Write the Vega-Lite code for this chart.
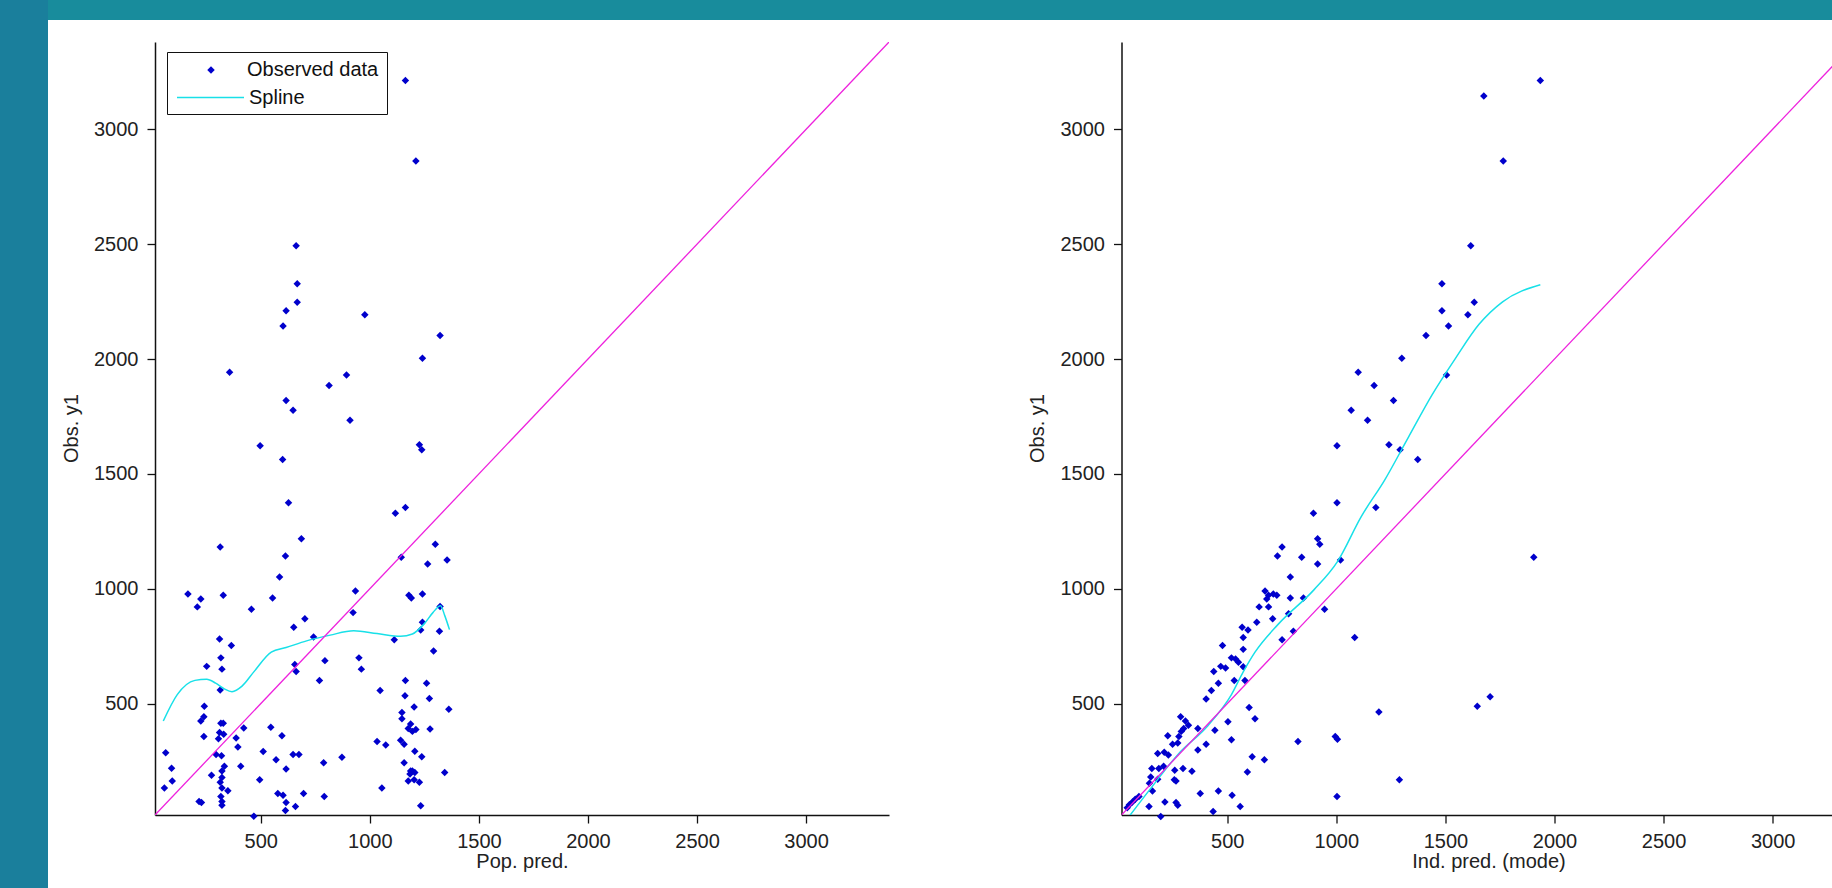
{
  "$schema": "https://vega.github.io/schema/vega-lite/v6.json",
  "padding": 0,
  "background": "white",
  "config": {
    "view": {"stroke": null},
    "font": "Liberation Sans",
    "axis": {
      "grid": false,
      "domainColor": "#111",
      "domainWidth": 1.5,
      "tickColor": "#111",
      "tickSize": 8,
      "tickWidth": 1.3,
      "labelFont": "Liberation Sans",
      "labelFontSize": 20,
      "labelColor": "#222",
      "labelPadding": 8,
      "titleFont": "Liberation Sans",
      "titleFontSize": 20,
      "titleFontWeight": "normal",
      "titleColor": "#222"
    }
  },
  "datasets": {
    "popPts": [
      {"pred":1163,"obs":3212},{"pred":1211,"obs":2862},{"pred":662,"obs":2493},{"pred":667,"obs":2328},{"pred":667,"obs":2247},{"pred":616,"obs":2210},{"pred":602,"obs":2144},{"pred":977,"obs":2193},{"pred":1322,"obs":2102},{"pred":1241,"obs":2003},
      {"pred":357,"obs":1942},{"pred":893,"obs":1930},{"pred":813,"obs":1885},{"pred":616,"obs":1819},{"pred":648,"obs":1777},{"pred":909,"obs":1733},{"pred":497,"obs":1622},{"pred":1227,"obs":1627},{"pred":1238,"obs":1605},{"pred":600,"obs":1563},
      {"pred":627,"obs":1374},{"pred":1117,"obs":1329},{"pred":1163,"obs":1354},{"pred":686,"obs":1218},{"pred":314,"obs":1182},{"pred":1300,"obs":1194},{"pred":613,"obs":1142},{"pred":1144,"obs":1137},{"pred":1354,"obs":1125},{"pred":1265,"obs":1108},
      {"pred":586,"obs":1051},{"pred":166,"obs":977},{"pred":328,"obs":972},{"pred":225,"obs":955},{"pred":209,"obs":921},{"pred":554,"obs":960},{"pred":934,"obs":990},{"pred":1179,"obs":972},{"pred":1190,"obs":960},{"pred":1241,"obs":977},
      {"pred":457,"obs":911},{"pred":923,"obs":896},{"pred":1322,"obs":923},{"pred":702,"obs":869},{"pred":651,"obs":832},{"pred":311,"obs":781},{"pred":365,"obs":753},{"pred":1241,"obs":854},{"pred":1233,"obs":820},{"pred":1319,"obs":815},
      {"pred":1112,"obs":778},{"pred":742,"obs":790},{"pred":317,"obs":699},{"pred":950,"obs":699},{"pred":794,"obs":687},{"pred":656,"obs":670},{"pred":252,"obs":662},{"pred":322,"obs":650},{"pred":662,"obs":640},{"pred":961,"obs":650},
      {"pred":1292,"obs":729},{"pred":769,"obs":601},{"pred":314,"obs":559},{"pred":1047,"obs":557},{"pred":1163,"obs":601},{"pred":1260,"obs":589},{"pred":1161,"obs":534},{"pred":1273,"obs":522},{"pred":241,"obs":488},{"pred":1203,"obs":485},
      {"pred":1362,"obs":475},{"pred":239,"obs":443},{"pred":1147,"obs":461},{"pred":225,"obs":424},{"pred":1147,"obs":434},{"pred":317,"obs":414},{"pred":328,"obs":414},{"pred":1187,"obs":411},{"pred":1195,"obs":379},{"pred":1176,"obs":392},
      {"pred":1211,"obs":387},{"pred":1276,"obs":389},{"pred":546,"obs":397},{"pred":422,"obs":394},{"pred":239,"obs":357},{"pred":311,"obs":374},{"pred":330,"obs":367},{"pred":387,"obs":350},{"pred":306,"obs":347},{"pred":597,"obs":360},
      {"pred":1033,"obs":335},{"pred":1073,"obs":320},{"pred":1141,"obs":340},{"pred":1157,"obs":323},{"pred":64,"obs":286},{"pred":295,"obs":278},{"pred":395,"obs":311},{"pred":320,"obs":273},{"pred":511,"obs":291},{"pred":648,"obs":278},
      {"pred":675,"obs":278},{"pred":872,"obs":266},{"pred":1206,"obs":293},{"pred":1238,"obs":269},{"pred":570,"obs":256},{"pred":788,"obs":242},{"pred":91,"obs":219},{"pred":333,"obs":227},{"pred":408,"obs":227},{"pred":322,"obs":207},
      {"pred":616,"obs":215},{"pred":1157,"obs":242},{"pred":1187,"obs":207},{"pred":1195,"obs":207},{"pred":1206,"obs":200},{"pred":1343,"obs":200},{"pred":274,"obs":188},{"pred":322,"obs":178},{"pred":94,"obs":163},{"pred":495,"obs":168},
      {"pred":1184,"obs":193},{"pred":1203,"obs":168},{"pred":1176,"obs":163},{"pred":1227,"obs":158},{"pred":58,"obs":133},{"pred":349,"obs":121},{"pred":1055,"obs":133},{"pred":578,"obs":109},{"pred":602,"obs":101},{"pred":696,"obs":109},
      {"pred":791,"obs":96},{"pred":317,"obs":96},{"pred":322,"obs":74},{"pred":217,"obs":74},{"pred":228,"obs":69},{"pred":616,"obs":69},{"pred":659,"obs":52},{"pred":322,"obs":57},{"pred":613,"obs":35},{"pred":468,"obs":10},
      {"pred":1233,"obs":55},{"pred":314,"obs":158},{"pred":322,"obs":133}
    ],
    "indPts": [
      {"pred":1935,"obs":3212},{"pred":1676,"obs":3145},{"pred":1765,"obs":2862},{"pred":1616,"obs":2493},{"pred":1484,"obs":2328},{"pred":1632,"obs":2247},{"pred":1484,"obs":2210},{"pred":1603,"obs":2193},{"pred":1514,"obs":2144},{"pred":1411,"obs":2102},
      {"pred":1300,"obs":2003},{"pred":1505,"obs":1930},{"pred":1100,"obs":1942},{"pred":1173,"obs":1885},{"pred":1068,"obs":1777},{"pred":1262,"obs":1819},{"pred":1143,"obs":1733},{"pred":1003,"obs":1622},{"pred":1241,"obs":1627},{"pred":1292,"obs":1605},
      {"pred":1373,"obs":1563},{"pred":1003,"obs":1374},{"pred":1181,"obs":1354},{"pred":895,"obs":1329},{"pred":914,"obs":1218},{"pred":924,"obs":1194},{"pred":751,"obs":1182},{"pred":730,"obs":1142},{"pred":841,"obs":1137},{"pred":1019,"obs":1125},
      {"pred":914,"obs":1108},{"pred":1905,"obs":1137},{"pred":789,"obs":1051},{"pred":673,"obs":990},{"pred":689,"obs":972},{"pred":711,"obs":977},{"pred":727,"obs":972},{"pred":681,"obs":955},{"pred":789,"obs":960},{"pred":849,"obs":960},
      {"pred":646,"obs":921},{"pred":689,"obs":921},{"pred":946,"obs":911},{"pred":708,"obs":869},{"pred":781,"obs":891},{"pred":635,"obs":854},{"pred":568,"obs":832},{"pred":595,"obs":820},{"pred":803,"obs":815},{"pred":1084,"obs":788},
      {"pred":751,"obs":778},{"pred":573,"obs":788},{"pred":478,"obs":753},{"pred":573,"obs":736},{"pred":519,"obs":699},{"pred":538,"obs":694},{"pred":551,"obs":680},{"pred":470,"obs":662},{"pred":492,"obs":655},{"pred":438,"obs":640},
      {"pred":573,"obs":660},{"pred":532,"obs":601},{"pred":581,"obs":601},{"pred":459,"obs":589},{"pred":427,"obs":557},{"pred":403,"obs":520},{"pred":600,"obs":483},{"pred":1195,"obs":463},{"pred":627,"obs":434},{"pred":286,"obs":443},
      {"pred":503,"obs":421},{"pred":308,"obs":424},{"pred":322,"obs":406},{"pred":300,"obs":392},{"pred":289,"obs":379},{"pred":443,"obs":384},{"pred":365,"obs":392},{"pred":278,"obs":357},{"pred":227,"obs":360},{"pred":519,"obs":343},
      {"pred":824,"obs":335},{"pred":995,"obs":357},{"pred":1005,"obs":345},{"pred":273,"obs":328},{"pred":249,"obs":323},{"pred":403,"obs":323},{"pred":181,"obs":283},{"pred":211,"obs":288},{"pred":230,"obs":276},{"pred":365,"obs":298},
      {"pred":614,"obs":269},{"pred":670,"obs":256},{"pred":154,"obs":217},{"pred":186,"obs":217},{"pred":208,"obs":227},{"pred":259,"obs":210},{"pred":297,"obs":217},{"pred":338,"obs":205},{"pred":592,"obs":202},{"pred":149,"obs":180},
      {"pred":181,"obs":171},{"pred":1289,"obs":168},{"pred":143,"obs":153},{"pred":257,"obs":168},{"pred":265,"obs":163},{"pred":157,"obs":119},{"pred":376,"obs":109},{"pred":459,"obs":119},{"pred":522,"obs":101},{"pred":1003,"obs":96},
      {"pred":214,"obs":72},{"pred":265,"obs":69},{"pred":273,"obs":57},{"pred":141,"obs":52},{"pred":559,"obs":52},{"pred":435,"obs":30},{"pred":195,"obs":8},{"pred":41,"obs":47},{"pred":51,"obs":60},{"pred":65,"obs":72},
      {"pred":78,"obs":84},{"pred":95,"obs":96},{"pred":1646,"obs":488},{"pred":1705,"obs":530}
    ],
    "popSpline": [
      {"pred":53,"obs":424},{"pred":117,"obs":539},{"pred":198,"obs":601},{"pred":252,"obs":606},{"pred":293,"obs":589},{"pred":333,"obs":564},{"pred":368,"obs":552},{"pred":414,"obs":576},{"pred":468,"obs":638},{"pred":548,"obs":724},
      {"pred":616,"obs":744},{"pred":710,"obs":773},{"pred":818,"obs":798},{"pred":926,"obs":817},{"pred":1033,"obs":805},{"pred":1141,"obs":793},{"pred":1195,"obs":803},{"pred":1249,"obs":847},{"pred":1289,"obs":896},{"pred":1324,"obs":926},
      {"pred":1343,"obs":884},{"pred":1365,"obs":822}
    ],
    "indSpline": [
      {"pred":51,"obs":10},{"pred":141,"obs":121},{"pred":276,"obs":281},{"pred":411,"obs":404},{"pred":519,"obs":539},{"pred":573,"obs":638},{"pred":627,"obs":724},{"pred":735,"obs":847},{"pred":897,"obs":995},{"pred":1005,"obs":1118},
      {"pred":1114,"obs":1314},{"pred":1222,"obs":1474},{"pred":1330,"obs":1659},{"pred":1438,"obs":1843},{"pred":1546,"obs":2003},{"pred":1654,"obs":2151},{"pred":1762,"obs":2249},{"pred":1935,"obs":2323}
    ],
    "diag": [{"pred":15,"obs":15,"pred2":3380,"obs2":3380}]
  },
  "spacing": 0,
  "hconcat": [
    {"width": 48, "height": 888, "data": {"values": []}, "mark": "point", "view": {"fill": "#1a7f9c", "stroke": null}},
    {
      "spacing": 0,
      "vconcat": [
        {"width": 1784, "height": 20, "data": {"values": []}, "mark": "point", "view": {"fill": "#188c9c", "stroke": null}},
        {
          "spacing": 0,
          "hconcat": [
            {"width": 12.5, "height": 10, "data": {"values": []}, "mark": "point", "view": {"fill": null, "stroke": null}},
            {
              "spacing": 138.5,
              "resolve": {"scale": {"color": "independent", "stroke": "independent"}, "legend": {"color": "independent", "stroke": "independent"}},
              "hconcat": [
                {
                  "width": 734,
                  "height": 773,
                  "title": {"text": " ", "fontSize": 1, "offset": 21},
                  "encoding": {
                    "x": {"field": "pred", "type": "quantitative", "title": "Pop. pred.",
                      "scale": {"domain": [15, 3380], "zero": false, "nice": false},
                      "axis": {"values": [500, 1000, 1500, 2000, 2500, 3000], "format": "d", "titleY": 46, "titleBaseline": "middle"}},
                    "y": {"field": "obs", "type": "quantitative", "title": "Obs. y1",
                      "scale": {"domain": [15, 3380], "zero": false, "nice": false},
                      "axis": {"values": [500, 1000, 1500, 2000, 2500, 3000], "format": "d", "labelPadding": 9, "titleX": -84, "titleY": 386, "titleAngle": 270, "titleAlign": "center", "titleBaseline": "middle"}}
                  },
                  "layer": [
                    {
                      "data": {"name": "popPts"},
                      "mark": {"type": "point", "shape": "diamond", "filled": true, "size": 56, "opacity": 1},
                      "encoding": {
                        "color": {"datum": "Observed data", "type": "nominal",
                          "scale": {"domain": ["Observed data", "Spline"], "range": ["#0000cc", "transparent"]},
                          "legend": {
                            "orient": "none", "legendX": 12, "legendY": 10, "title": null,
                            "strokeColor": "#111", "fillColor": "white", "padding": 8,
                            "labelFont": "Liberation Sans", "labelFontSize": 20, "labelColor": "#111",
                            "labelExpr": "datum.label == 'Spline' ? ' ' : datum.label",
                            "symbolType": "diamond", "symbolSize": 56,
                            "symbolOffset": 26, "labelOffset": 26, "rowPadding": 6
                          }}
                      }
                    },
                    {
                      "data": {"name": "popSpline"},
                      "mark": {"type": "line", "strokeWidth": 1.5, "clip": true, "interpolate": "monotone"},
                      "encoding": {
                        "stroke": {"datum": "Spline", "type": "nominal",
                          "scale": {"domain": ["Spline"], "range": ["#18e0e8"]},
                          "legend": {
                            "orient": "none", "legendX": 21, "legendY": 21, "title": null, "padding": 0,
                            "labelFont": "Liberation Sans", "labelFontSize": 20, "labelColor": "#111",
                            "symbolType": "stroke", "symbolSize": 4489, "symbolStrokeWidth": 1.5, "labelOffset": 4
                          }}
                      }
                    },
                    {
                      "data": {"name": "diag"},
                      "mark": {"type": "rule", "color": "#ee22dd", "strokeWidth": 1.3, "clip": true},
                      "encoding": {"x2": {"field": "pred2"}, "y2": {"field": "obs2"}}
                    }
                  ]
                },
                {
                  "width": 712,
                  "height": 773,
                  "title": {"text": " ", "fontSize": 1, "offset": 21},
                  "encoding": {
                    "x": {"field": "pred", "type": "quantitative", "title": "Ind. pred. (mode)",
                      "scale": {"domain": [15, 3279], "zero": false, "nice": false},
                      "axis": {"values": [500, 1000, 1500, 2000, 2500, 3000], "format": "d", "titleX": 367, "titleY": 46, "titleBaseline": "middle", "labelFlush": false}},
                    "y": {"field": "obs", "type": "quantitative", "title": "Obs. y1",
                      "scale": {"domain": [15, 3380], "zero": false, "nice": false},
                      "axis": {"values": [500, 1000, 1500, 2000, 2500, 3000], "format": "d", "labelPadding": 9, "titleX": -84, "titleY": 386, "titleAngle": 270, "titleAlign": "center", "titleBaseline": "middle"}}
                  },
                  "layer": [
                    {
                      "data": {"name": "indPts"},
                      "mark": {"type": "point", "shape": "diamond", "filled": true, "size": 56, "opacity": 1, "color": "#0000cc"}
                    },
                    {
                      "data": {"name": "indSpline"},
                      "mark": {"type": "line", "strokeWidth": 1.5, "clip": true, "color": "#18e0e8", "interpolate": "monotone"},
                      "encoding": {}
                    },
                    {
                      "data": {"name": "diag"},
                      "mark": {"type": "rule", "color": "#ee22dd", "strokeWidth": 1.3, "clip": true},
                      "encoding": {"x2": {"field": "pred2"}, "y2": {"field": "obs2"}}
                    }
                  ]
                }
              ]
            }
          ]
        }
      ]
    }
  ]
}
